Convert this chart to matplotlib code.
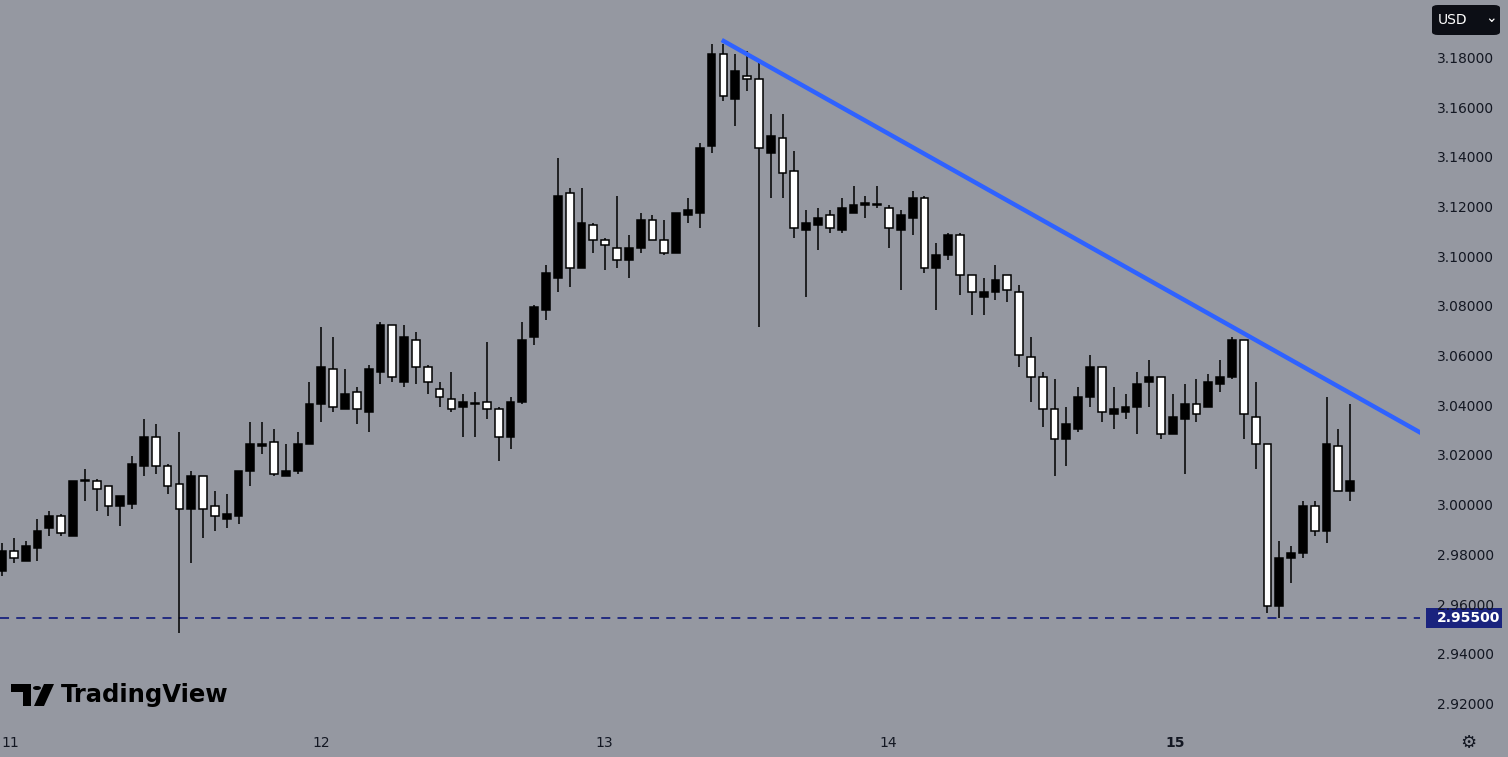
import matplotlib
matplotlib.use("Agg")
import matplotlib.pyplot as plt
from matplotlib.patches import Rectangle, FancyBboxPatch, Circle, Polygon

opens = [2.974,2.982,2.978,2.983,2.991,2.996,2.988,3.010,3.010,3.008,3.000,3.001,3.016,3.028,3.016,3.009,2.999,3.012,3.000,2.995,
 2.996,3.014,3.024,3.026,3.012,3.014,3.025,3.041,3.055,3.039,3.046,3.038,3.054,3.073,3.050,3.067,3.056,3.047,3.043,3.040,
 3.041,3.042,3.039,3.028,3.042,3.068,3.079,3.092,3.126,3.096,3.113,3.107,3.104,3.099,3.104,3.115,3.107,3.102,3.117,3.118,
 3.145,3.182,3.164,3.173,3.172,3.142,3.148,3.135,3.111,3.113,3.117,3.111,3.118,3.121,3.121,3.120,3.111,3.116,3.124,3.096,
 3.101,3.109,3.093,3.084,3.086,3.093,3.086,3.060,3.052,3.039,3.027,3.031,3.044,3.056,3.037,3.038,3.040,3.050,3.052,3.029,
 3.035,3.041,3.040,3.049,3.052,3.067,3.036,3.025,2.960,2.979,2.981,3.000,2.990,3.024,3.006]
highs = [2.985,2.987,2.986,2.995,2.998,2.997,3.010,3.015,3.011,3.008,3.004,3.020,3.035,3.033,3.017,3.030,3.014,3.012,3.006,3.005,
 3.014,3.034,3.034,3.031,3.025,3.030,3.050,3.072,3.068,3.055,3.048,3.057,3.074,3.073,3.073,3.070,3.057,3.050,3.054,3.045,
 3.046,3.066,3.040,3.044,3.074,3.081,3.097,3.140,3.128,3.128,3.114,3.108,3.125,3.109,3.118,3.117,3.115,3.118,3.124,3.146,
 3.186,3.186,3.182,3.183,3.180,3.158,3.158,3.143,3.119,3.120,3.119,3.124,3.129,3.125,3.129,3.121,3.119,3.127,3.125,3.106,
 3.110,3.110,3.093,3.092,3.097,3.093,3.089,3.068,3.054,3.051,3.040,3.048,3.061,3.056,3.048,3.045,3.054,3.059,3.052,3.045,
 3.049,3.051,3.053,3.059,3.068,3.067,3.050,3.025,2.986,2.984,3.002,3.002,3.044,3.031,3.041]
lows = [2.972,2.977,2.978,2.978,2.988,2.988,2.988,3.002,2.998,2.996,2.992,2.999,3.012,3.013,3.005,2.949,2.977,2.987,2.990,2.991,
 2.993,3.008,3.021,3.012,3.012,3.013,3.025,3.034,3.038,3.039,3.033,3.030,3.049,3.050,3.048,3.049,3.045,3.040,3.038,3.028,
 3.028,3.035,3.018,3.023,3.041,3.065,3.075,3.086,3.088,3.096,3.102,3.095,3.096,3.092,3.102,3.107,3.101,3.102,3.114,3.112,
 3.142,3.163,3.153,3.167,3.072,3.124,3.124,3.108,3.084,3.103,3.110,3.110,3.118,3.116,3.120,3.104,3.087,3.109,3.094,3.079,
 3.099,3.085,3.077,3.077,3.083,3.082,3.056,3.042,3.032,3.012,3.016,3.030,3.040,3.034,3.031,3.035,3.029,3.040,3.027,3.029,
 3.013,3.034,3.040,3.046,3.051,3.027,3.015,2.957,2.955,2.969,2.979,2.988,2.985,3.006,3.002]
closes = [2.982,2.979,2.984,2.990,2.996,2.989,3.010,3.010,3.007,3.000,3.004,3.017,3.028,3.016,3.008,2.999,3.012,2.999,2.996,2.997,
 3.014,3.025,3.025,3.013,3.014,3.025,3.041,3.056,3.040,3.045,3.039,3.055,3.073,3.052,3.068,3.056,3.050,3.044,3.039,3.042,
 3.0415,3.039,3.028,3.042,3.067,3.080,3.094,3.125,3.096,3.114,3.107,3.105,3.099,3.104,3.115,3.107,3.102,3.118,3.119,3.144,
 3.182,3.165,3.175,3.172,3.144,3.149,3.134,3.112,3.114,3.116,3.112,3.120,3.121,3.122,3.121,3.112,3.117,3.124,3.096,3.101,
 3.109,3.093,3.086,3.086,3.091,3.087,3.061,3.052,3.039,3.027,3.033,3.044,3.056,3.038,3.039,3.040,3.049,3.052,3.029,3.036,
 3.041,3.037,3.050,3.052,3.067,3.037,3.025,2.960,2.979,2.981,3.000,2.990,3.025,3.006,3.010]

day_labels = ["11", "12", "13", "14", "15"]
day_pos = [0.7, 27.0, 50.9, 74.9, 99.2]
price_ticks = [3.18, 3.16, 3.14, 3.12, 3.10, 3.08, 3.06, 3.04, 3.02, 3.00, 2.98, 2.96, 2.94, 2.92]
support = 2.955
trend_x = [60.86, 120.0]
trend_y = [3.1876, 3.0294]

BG = "#9598a1"
W, H = 1508, 757
fig = plt.figure(figsize=(W/100, H/100), dpi=100, facecolor=BG)
ax = fig.add_axes([0, (H-730)/H, 1420/W, 730/H])
ax.set_facecolor(BG)
ax.set_xlim(-0.17, 119.9)
ax.set_ylim(2.9099, 3.2037)
for s in ax.spines.values():
    s.set_visible(False)
ax.set_xticks([]); ax.set_yticks([])

bw = 0.66
for i, (o, h, l, c) in enumerate(zip(opens, highs, lows, closes)):
    up = c >= o
    ax.vlines(i, l, h, color="black", lw=1.1, zorder=2)
    bottom = min(o, c); height = max(abs(c - o), 0.0004)
    ax.add_patch(Rectangle((i - bw/2, bottom), bw, height, facecolor="black" if up else "white",
                           edgecolor="black", lw=1.1, zorder=3))

ax.axhline(support, color="#1a237e", lw=1.3, ls=(0, (5, 4)), zorder=1)
ax.plot(trend_x, trend_y, color="#2f62ff", lw=3.2, solid_capstyle="butt", zorder=4)

for p in price_ticks:
    ypix = (3.2037 - p) / 0.2938 * 730
    fig.text(1437/W, 1 - ypix/H, f"{p:.5f}", fontsize=10, color="#131722", va="center", ha="left")
ypix = (3.2037 - support) / 0.2938 * 730
fig.patches.append(Rectangle((1426/W, 1 - (ypix+10)/H), 76/W, 20/H, transform=fig.transFigure,
                             facecolor="#1a237e", edgecolor="none"))
fig.text(1437/W, 1 - ypix/H, f"{support:.5f}", fontsize=10, color="white", fontweight="bold", va="center", ha="left")

for lab, pos in zip(day_labels, day_pos):
    xpix = 2 + pos * 11.83
    fig.text(xpix/W, 1 - 743/H, lab, fontsize=10, color="#131722", ha="center", va="center",
             fontweight="bold" if lab == "15" else "normal")

fig.patches.append(FancyBboxPatch((1432/W, 1 - 35/H), 68/W, 30/H, boxstyle="round,pad=0,rounding_size=0.004",
                                  transform=fig.transFigure, facecolor="#0c0e15", edgecolor="none"))
fig.text(1438/W, 1 - 20/H, "USD", fontsize=10, color="white", va="center", ha="left")
fig.text(1491/W, 1 - 18/H, "⌄", fontsize=10, color="white", va="center", ha="center")

fig.text(1468/W, 1 - 743/H, "⚙", fontsize=13, color="#131722", ha="center", va="center")

k = fig.transFigure
def fx(x): return x / W
def fy(y): return 1 - y / H
fig.patches.append(Polygon([(fx(11), fy(684)), (fx(31), fy(684)), (fx(31), fy(706)), (fx(23), fy(706)),
                            (fx(23), fy(692)), (fx(11), fy(692))], closed=True, transform=k, facecolor="black"))
fig.patches.append(Circle((fx(37), fy(688)), 4/W, transform=k, facecolor="black"))
fig.patches.append(Polygon([(fx(44), fy(684)), (fx(54), fy(684)), (fx(44), fy(706)), (fx(34), fy(706))],
                           closed=True, transform=k, facecolor="black"))
fig.text(fx(61), fy(695), "TradingView", fontsize=17.5, fontweight="bold", color="black", va="center", ha="left")

fig.savefig("out.png", dpi=100, facecolor=BG)
